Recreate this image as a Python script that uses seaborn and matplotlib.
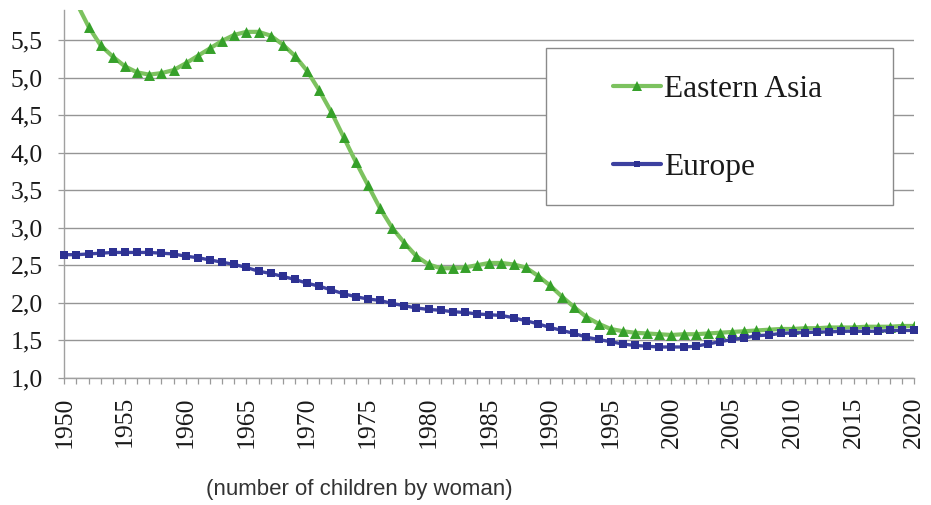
import numpy as np
import pandas as pd
import matplotlib
matplotlib.use("Agg")
import matplotlib.pyplot as plt
import seaborn as sns
from matplotlib.lines import Line2D
from matplotlib.patches import Rectangle
from matplotlib.ticker import FuncFormatter, MultipleLocator

years = list(range(1950, 2021))

eastern_asia = [
    6.30, 6.00, 5.68, 5.43, 5.28, 5.15, 5.07, 5.04, 5.06, 5.10,
    5.19, 5.29, 5.39, 5.49, 5.57, 5.61, 5.61, 5.56, 5.44, 5.29,
    5.09, 4.83, 4.54, 4.21, 3.88, 3.57, 3.26, 3.00, 2.80, 2.62,
    2.51, 2.46, 2.46, 2.47, 2.50, 2.53, 2.53, 2.51, 2.47, 2.36,
    2.23, 2.08, 1.94, 1.81, 1.72, 1.65, 1.62, 1.60, 1.59, 1.58,
    1.57, 1.58, 1.58, 1.59, 1.60, 1.61, 1.62, 1.63, 1.64, 1.65,
    1.65, 1.66, 1.66, 1.67, 1.67, 1.67, 1.68, 1.68, 1.68, 1.69,
    1.69,
]

europe = [
    2.64, 2.64, 2.65, 2.66, 2.67, 2.67, 2.67, 2.67, 2.66, 2.65,
    2.62, 2.60, 2.57, 2.54, 2.51, 2.47, 2.42, 2.39, 2.35, 2.31,
    2.26, 2.22, 2.17, 2.12, 2.08, 2.05, 2.03, 1.99, 1.96, 1.93,
    1.91, 1.90, 1.88, 1.87, 1.85, 1.84, 1.83, 1.80, 1.76, 1.72,
    1.67, 1.63, 1.59, 1.54, 1.51, 1.48, 1.45, 1.43, 1.42, 1.41,
    1.41, 1.41, 1.42, 1.45, 1.48, 1.51, 1.53, 1.56, 1.57, 1.59,
    1.60, 1.60, 1.61, 1.61, 1.62, 1.62, 1.62, 1.62, 1.63, 1.63,
    1.63,
]

series_names = ["Eastern Asia", "Europe"]
y_ticks = [1.0, 1.5, 2.0, 2.5, 3.0, 3.5, 4.0, 4.5, 5.0, 5.5]
x_ticks = list(range(1950, 2021, 5))
caption = "(number of children by woman)"

line_colors = {"Eastern Asia": "#7cc25f", "Europe": "#3d41a0"}
marker_colors = {"Eastern Asia": "#36a02a", "Europe": "#2d3192"}
markers = {"Eastern Asia": "^", "Europe": "s"}
marker_sizes = {"Eastern Asia": 62, "Europe": 34}
line_widths = {"Eastern Asia": 3.0, "Europe": 2.4}

df = pd.concat([
    pd.DataFrame({"year": years, "tfr": eastern_asia, "region": "Eastern Asia"}),
    pd.DataFrame({"year": years, "tfr": europe, "region": "Europe"}),
], ignore_index=True)

sns.set_theme(style="white")
plt.rcParams["font.family"] = ["Liberation Serif", "DejaVu Serif"]

fig = plt.figure(figsize=(9.31, 5.05), dpi=100)
ax = fig.add_axes([0.069, 0.252, 0.913, 0.728])

for i, name in enumerate(series_names):
    sub = df[df["region"] == name]
    clip = name != "Europe"
    sns.lineplot(data=sub, x="year", y="tfr", color=line_colors[name],
                 linewidth=line_widths[name], ax=ax, legend=False,
                 zorder=3 + 2 * i, clip_on=clip)
    sns.scatterplot(data=sub, x="year", y="tfr", color=marker_colors[name],
                    marker=markers[name], s=marker_sizes[name], linewidth=0,
                    ax=ax, legend=False, zorder=4 + 2 * i, clip_on=clip)

ax.set_xlim(1950, 2020)
ax.set_ylim(1.0, 5.9)
ax.set_xticks(x_ticks)
ax.xaxis.set_minor_locator(MultipleLocator(1))
ax.set_xticklabels([str(y) for y in x_ticks], rotation=90)
ax.set_yticks(y_ticks)
ax.yaxis.set_major_formatter(FuncFormatter(lambda v, p: f"{v:.1f}".replace(".", ",")))
ax.set_xlabel("")
ax.set_ylabel("")

ax.grid(axis="y", color="#959595", linewidth=1.0)
ax.grid(axis="x", visible=False)
for s in ["top", "right"]:
    ax.spines[s].set_visible(False)
for s in ["left", "bottom"]:
    ax.spines[s].set_color("#a0a0a0")
    ax.spines[s].set_linewidth(1.0)

ax.tick_params(axis="y", which="major", direction="out", length=4.3, width=0.9,
               color="#9a9a9a", labelsize=18.5, pad=11, left=True, labelcolor="#1a1a1a")
ax.tick_params(axis="x", which="both", direction="out", length=4.3, width=0.9,
               color="#9a9a9a", bottom=True)
ax.tick_params(axis="x", which="major", labelsize=18.5, pad=9, labelcolor="#1a1a1a")

# legend frame
ax.add_patch(Rectangle((0.567, 0.470), 0.408, 0.427, transform=ax.transAxes,
                       facecolor="white", edgecolor="#8a8a8a", linewidth=1.0,
                       zorder=10, clip_on=False))
handles = [
    Line2D([], [], color=line_colors[n], linewidth=3.0, marker=markers[n],
           markerfacecolor=marker_colors[n], markeredgewidth=0,
           markersize=7 if n == "Eastern Asia" else 5)
    for n in series_names
]
leg = ax.legend(handles, series_names, loc="center left",
                bbox_to_anchor=(0.646, 0.678), frameon=False,
                prop={"family": "Liberation Serif", "size": 22.7},
                handlelength=1.5, handletextpad=0.1, labelspacing=1.55,
                borderpad=0, borderaxespad=0)
leg.set_zorder(11)
for t in leg.get_texts():
    t.set_color("#1a1a1a")

fig.text(0.386, 0.030, caption, ha="center", va="center",
         family=["Liberation Sans", "DejaVu Sans"], fontsize=16, color="#333333")

fig.savefig("out.png", dpi=100)
